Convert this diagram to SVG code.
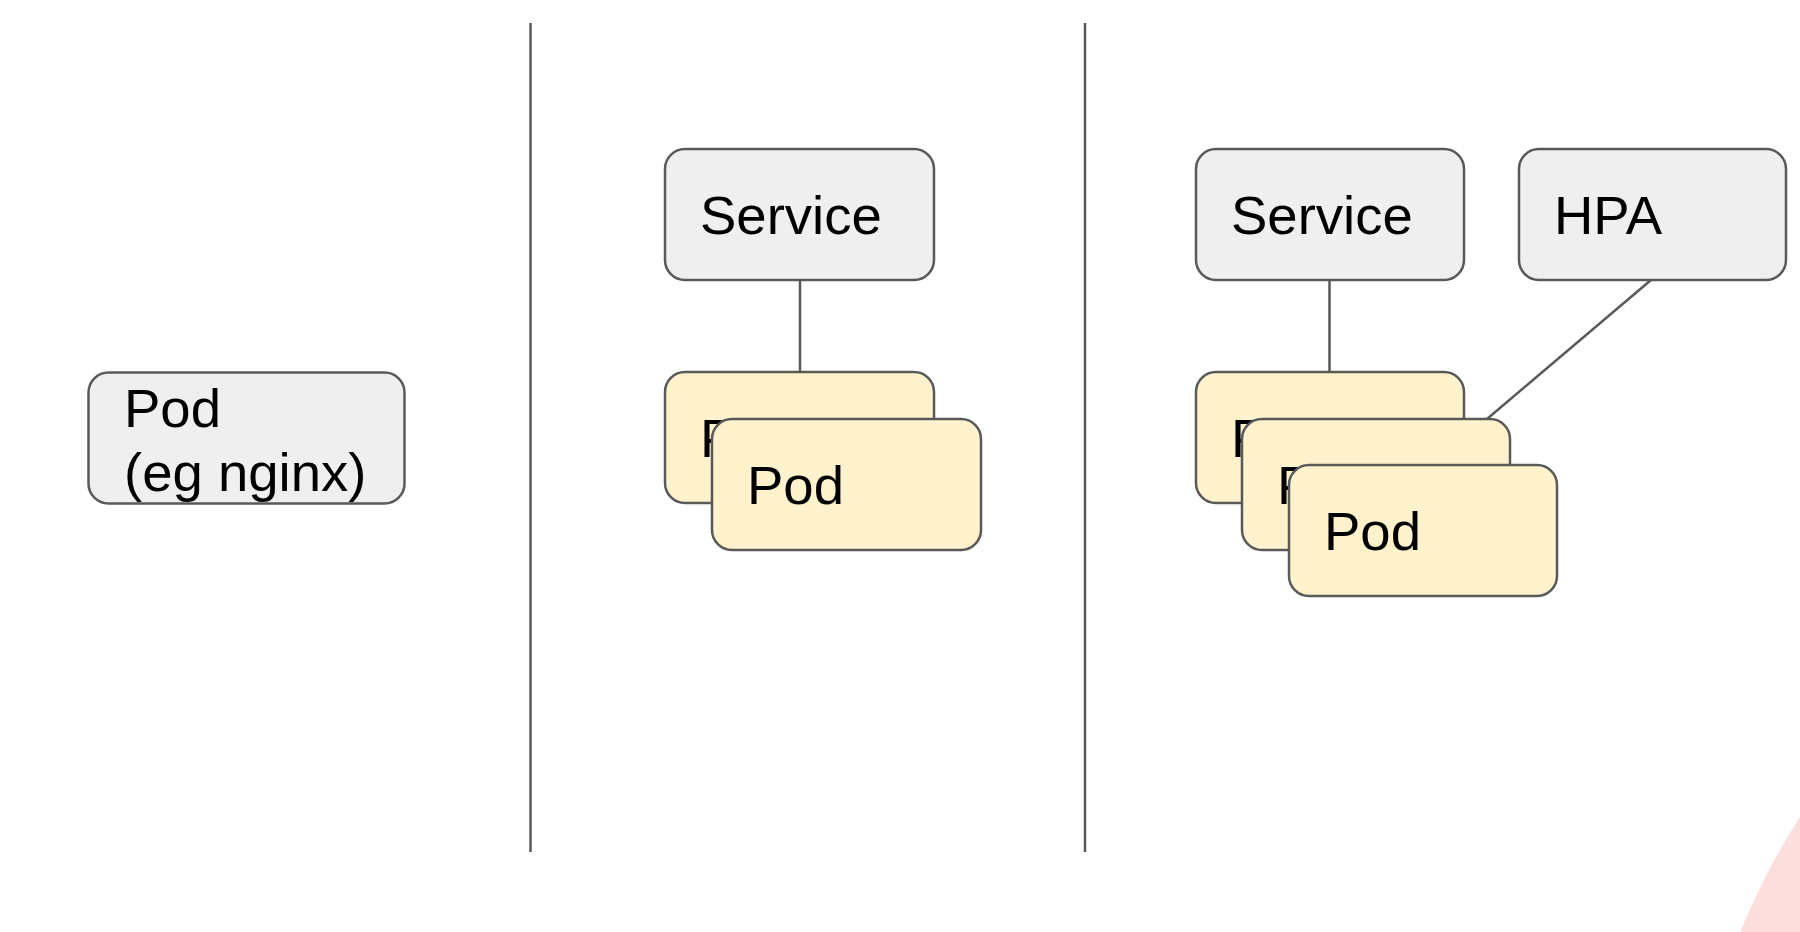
<svg xmlns="http://www.w3.org/2000/svg" width="1800" height="932" viewBox="0 0 1800 932">
<style>
.box{stroke:#595959;stroke-width:2.5}
.gray{fill:#efefef}
.pod{fill:#fff2cc}
.t{font-family:"Liberation Sans",Arial,sans-serif;font-size:54.5px;fill:#000}
.ln{stroke:#595959;stroke-width:2.5;fill:none}
</style>
<rect width="1800" height="932" fill="#ffffff"/>
<circle cx="2400" cy="1200" r="712" fill="#fcdedd"/>
<g id="dividers">
<line class="ln" x1="530.5" y1="23" x2="530.5" y2="852"/>
<line class="ln" x1="1085" y1="23" x2="1085" y2="852"/>
</g>
<g id="connectors">
<line class="ln" x1="800" y1="280" x2="800" y2="372"/>
<line class="ln" x1="1329.5" y1="280" x2="1329.5" y2="372"/>
<line class="ln" x1="1651" y1="280" x2="1487" y2="419"/>
</g>
<g id="pod-single">
<rect class="box gray" x="88.5" y="372.5" width="316" height="131" rx="20"/>
<text class="t" x="124" y="427">Pod</text>
<text class="t" x="124" y="491">(eg nginx)</text>
</g>
<g id="service-mid">
<rect class="box gray" x="665" y="149" width="269" height="131" rx="20"/>
<text class="t" x="700" y="234">Service</text>
</g>
<g id="pod-mid-1">
<rect class="box pod" x="665" y="372" width="269" height="131" rx="20"/>
<text class="t" x="700" y="457">Pod</text>
</g>
<g id="pod-mid-2">
<rect class="box pod" x="712" y="419" width="269" height="131" rx="20"/>
<text class="t" x="747" y="504">Pod</text>
</g>
<g id="service-right">
<rect class="box gray" x="1196" y="149" width="268" height="131" rx="20"/>
<text class="t" x="1231" y="234">Service</text>
</g>
<g id="hpa">
<rect class="box gray" x="1519" y="149" width="267" height="131" rx="20"/>
<text class="t" x="1554" y="234">HPA</text>
</g>
<g id="pod-right-1">
<rect class="box pod" x="1196" y="372" width="268" height="131" rx="20"/>
<text class="t" x="1231" y="457">Pod</text>
</g>
<g id="pod-right-2">
<rect class="box pod" x="1242" y="419" width="268" height="131" rx="20"/>
<text class="t" x="1277" y="504">Pod</text>
</g>
<g id="pod-right-3">
<rect class="box pod" x="1289" y="465" width="268" height="131" rx="20"/>
<text class="t" x="1324" y="550">Pod</text>
</g>
</svg>
